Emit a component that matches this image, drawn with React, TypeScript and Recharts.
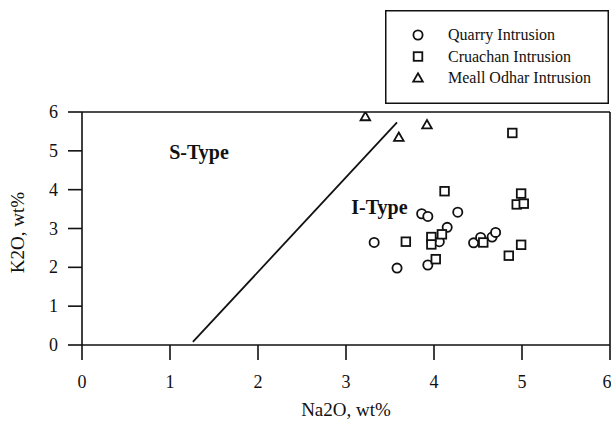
import React from 'react';
import {
  ScatterChart,
  Scatter,
  XAxis,
  YAxis,
  ReferenceLine,
  ReferenceDot,
  Legend,
  Label,
} from 'recharts';

// Na2O vs K2O (wt%) for the three intrusions
const quarryNa2O = [3.32, 3.58, 3.93, 3.86, 3.93, 4.27, 4.15, 4.06, 4.45, 4.53, 4.66, 4.7];
const quarryK2O = [2.64, 1.98, 2.06, 3.38, 3.31, 3.42, 3.03, 2.66, 2.63, 2.77, 2.78, 2.9];

const cruachanNa2O = [3.68, 3.97, 3.97, 4.09, 4.02, 4.12, 4.56, 4.85, 4.99, 4.94, 5.02, 4.99, 4.89];
const cruachanK2O = [2.66, 2.78, 2.59, 2.85, 2.21, 3.96, 2.64, 2.3, 2.58, 3.62, 3.64, 3.9, 5.46];

const meallNa2O = [3.22, 3.6, 3.92];
const meallK2O = [5.88, 5.35, 5.67];

const seriesNames = ['Quarry Intrusion', 'Cruachan Intrusion', 'Meall Odhar Intrusion'];
const axisTicks = [0, 1, 2, 3, 4, 5, 6];

// S-type / I-type dividing line
const divideLine = [
  { x: 1.26, y: 0.08 },
  { x: 3.58, y: 5.73 },
];

const fieldLabels = [
  { text: 'S-Type', x: 1.33, y: 4.97 },
  { text: 'I-Type', x: 3.38, y: 3.56 },
];

const zip = (xs: number[], ys: number[]) => xs.map((x, i) => ({ x, y: ys[i] }));

const quarryData = zip(quarryNa2O, quarryK2O);
const cruachanData = zip(cruachanNa2O, cruachanK2O);
const meallData = zip(meallNa2O, meallK2O);

const FONT = '"Liberation Serif", "Times New Roman", serif';
const INK = '#111';
const SW = 1.8;

const CircleMark = ({ cx, cy }: any) => (
  <circle cx={cx} cy={cy} r={4.6} fill="#fff" stroke={INK} strokeWidth={SW} />
);
const SquareMark = ({ cx, cy }: any) => (
  <rect x={cx - 4.3} y={cy - 4.3} width={8.6} height={8.6} fill="#fff" stroke={INK} strokeWidth={SW} />
);
const TriangleMark = ({ cx, cy }: any) => (
  <path
    d={`M${cx},${cy - 4.8} L${cx + 4.8},${cy + 3.6} L${cx - 4.8},${cy + 3.6} Z`}
    fill="#fff"
    stroke={INK}
    strokeWidth={SW}
    strokeLinejoin="miter"
  />
);

const legendMarks = [CircleMark, SquareMark, TriangleMark];

const LegendBox = () => (
  <svg width={226} height={94} style={{ display: 'block' }}>
    <rect x={0.75} y={0.75} width={222.5} height={92.5} fill="#fff" stroke={INK} strokeWidth={1.5} />
    {seriesNames.map((name, i) => {
      const Mark = legendMarks[i];
      const y = 25 + i * 21.5;
      return (
        <g key={name}>
          <Mark cx={33} cy={y} />
          <text x={63} y={y + 5} fontFamily={FONT} fontSize={16} fill={INK}>
            {name}
          </text>
        </g>
      );
    })}
  </svg>
);

const FieldLabel = (text: string) => (props: any) => {
  const vb = props.viewBox || {};
  const cx = vb.x + (vb.width || 0) / 2;
  const cy = vb.y + (vb.height || 0) / 2;
  return (
    <text x={cx} y={cy + 7} textAnchor="middle" fontFamily={FONT} fontSize={20} fontWeight="bold" fill={INK}>
      {text}
    </text>
  );
};

const YTitle = (props: any) => {
  const vb = props.viewBox || {};
  const cy = vb.y + vb.height / 2 + 4;
  return (
    <text
      transform={`translate(24, ${cy}) rotate(-90)`}
      textAnchor="middle"
      fontFamily={FONT}
      fontSize={19}
      fill={INK}
    >
      K2O, wt%
    </text>
  );
};

const XTitle = (props: any) => {
  const vb = props.viewBox || {};
  const cx = vb.x + vb.width / 2;
  return (
    <text x={cx} y={416} textAnchor="middle" fontFamily={FONT} fontSize={19} fill={INK}>
      Na2O, wt%
    </text>
  );
};

const XTick = ({ x, y, payload }: any) => (
  <text x={x} y={y + 24} textAnchor="middle" fontFamily={FONT} fontSize={18} fill={INK}>
    {payload.value}
  </text>
);

const YTick = ({ x, y, payload }: any) => (
  <text x={x} y={y + 6} textAnchor="end" fontFamily={FONT} fontSize={18} fill={INK}>
    {payload.value}
  </text>
);

export default function App() {
  return (
    <div style={{ position: 'absolute', left: 0, top: 0, width: 611, height: 425, background: '#fff' }}>
      <ScatterChart width={611} height={425} margin={{ top: 112, right: 1, bottom: 0, left: 0 }}>
        <XAxis
          type="number"
          dataKey="x"
          domain={[0, 6]}
          ticks={axisTicks}
          allowDataOverflow
          height={80}
          tickSize={15}
          tickMargin={4}
          tick={XTick}
          axisLine={{ stroke: INK, strokeWidth: 1.6 }}
          tickLine={{ stroke: INK, strokeWidth: 1.6 }}
        >
          <Label content={XTitle} />
        </XAxis>
        <YAxis
          type="number"
          dataKey="y"
          domain={[0, 6]}
          ticks={axisTicks}
          allowDataOverflow
          width={82}
          tickSize={14}
          tickMargin={10}
          tick={YTick}
          axisLine={{ stroke: INK, strokeWidth: 1.6 }}
          tickLine={{ stroke: INK, strokeWidth: 1.6 }}
        >
          <Label content={YTitle} />
        </YAxis>

        <ReferenceLine y={6} stroke={INK} strokeWidth={1.6} />
        <ReferenceLine x={6} stroke={INK} strokeWidth={1.6} />
        <ReferenceLine segment={divideLine} stroke={INK} strokeWidth={1.8} />

        {fieldLabels.map((f) => (
          <ReferenceDot key={f.text} x={f.x} y={f.y} r={0} stroke="none" fill="none" label={FieldLabel(f.text)} />
        ))}

        <Scatter name={seriesNames[0]} data={quarryData} shape={CircleMark} isAnimationActive={false} />
        <Scatter name={seriesNames[1]} data={cruachanData} shape={SquareMark} isAnimationActive={false} />
        <Scatter name={seriesNames[2]} data={meallData} shape={TriangleMark} isAnimationActive={false} />

        <Legend
          layout="horizontal"
          verticalAlign="middle"
          align="center"
          content={LegendBox}
          wrapperStyle={{ position: 'absolute', left: 385, top: 10, width: 226, height: 94 }}
        />
      </ScatterChart>
    </div>
  );
}
